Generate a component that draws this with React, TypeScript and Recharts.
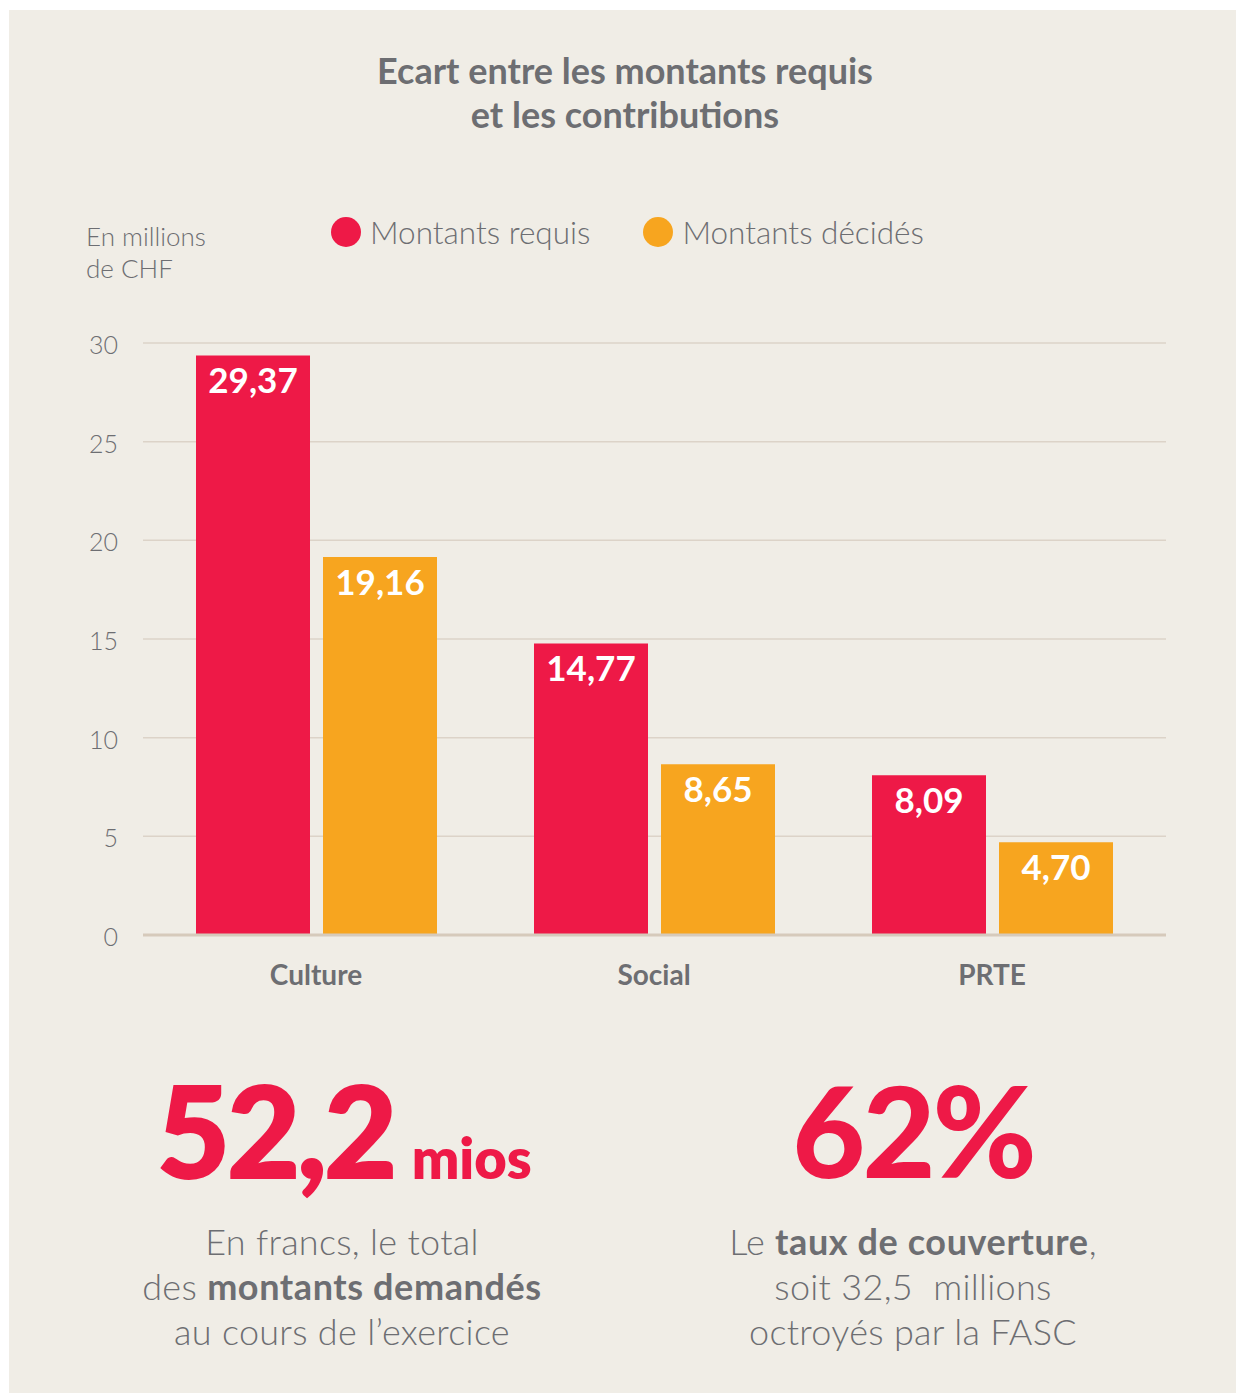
import React from "react";
import {
  BarChart,
  Bar,
  XAxis,
  YAxis,
  CartesianGrid,
  LabelList,
} from "recharts";

const categories = ["Culture", "Social", "PRTE"];
const montantsRequis = [29.37, 14.77, 8.09];
const montantsDecides = [19.16, 8.65, 4.7];
const yTicks = [0, 5, 10, 15, 20, 25, 30];

const series = [
  { key: "requis", name: "Montants requis", color: "#ee1947" },
  { key: "decides", name: "Montants décidés", color: "#f7a51f" },
];

const data = categories.map((name, i) => ({
  name,
  requis: montantsRequis[i],
  decides: montantsDecides[i],
}));

const GRAY = "#6d6e72";
const BG = "#f0ede6";
const FONT = "Lato, 'Open Sans', sans-serif";

const fmt = (v: number) => v.toFixed(2).replace(".", ",");

const bodyText: React.CSSProperties = {
  position: "absolute",
  top: 1219,
  width: 600,
  textAlign: "center",
  fontSize: 36,
  fontWeight: 300,
  lineHeight: "45px",
  letterSpacing: 0.3,
};

const boldPart: React.CSSProperties = { fontWeight: 700, letterSpacing: 0.6 };

export default function App() {
  return (
    <div
      style={{
        position: "absolute",
        left: 0,
        top: 0,
        width: 1236,
        height: 1393,
        background: "#fff",
        fontFamily: FONT,
        color: GRAY,
        overflow: "hidden",
      }}
    >
      <div
        style={{
          position: "absolute",
          left: 9,
          top: 10,
          width: 1227,
          height: 1383,
          background: BG,
        }}
      />

      <div
        style={{
          position: "absolute",
          left: 0,
          top: 48,
          width: 1250,
          textAlign: "center",
          fontWeight: 700,
          fontSize: 36,
          lineHeight: "44px",
        }}
      >
        Ecart entre les montants requis
        <br />
        et les contributions
      </div>

      <div
        style={{
          position: "absolute",
          left: 86,
          top: 220,
          fontSize: 26,
          fontWeight: 300,
          lineHeight: "32px",
        }}
      >
        En millions
        <br />
        de CHF
      </div>

      <div
        style={{
          position: "absolute",
          left: 331,
          top: 212,
          display: "flex",
          alignItems: "center",
        }}
      >
        {series.map((s, i) => (
          <div
            key={s.key}
            style={{
              display: "flex",
              alignItems: "center",
              marginRight: i === 0 ? 53 : 0,
            }}
          >
            <span
              style={{
                display: "inline-block",
                width: 30,
                height: 30,
                borderRadius: "50%",
                background: s.color,
                marginRight: 9,
              }}
            />
            <span style={{ fontSize: 31.5, fontWeight: 300, lineHeight: "40px" }}>
              {s.name}
            </span>
          </div>
        ))}
      </div>

      <div style={{ position: "absolute", left: 0, top: 0 }}>
        <BarChart
          width={1236}
          height={1010}
          data={data}
          margin={{ top: 343, right: 70, bottom: 45, left: 83 }}
          barSize={114}
          barGap={13}
        >
          <CartesianGrid vertical={false} stroke="#dcd3c8" strokeWidth={1.5} />
          <YAxis
            width={60}
            domain={[0, 30]}
            ticks={yTicks}
            axisLine={false}
            tickLine={false}
            tickMargin={19}
            tick={{ fill: GRAY, fontSize: 25, fontWeight: 300, fontFamily: FONT, dy: 2 }}
          />
          <XAxis
            dataKey="name"
            height={30}
            padding={{ left: 4, right: 5 }}
            axisLine={{ stroke: "#d6cabb", strokeWidth: 3 }}
            tickLine={false}
            tickMargin={24}
            tick={{ fill: GRAY, fontSize: 28, fontWeight: 700, fontFamily: FONT }}
          />
          {series.map((s) => (
            <Bar
              key={s.key}
              dataKey={s.key}
              name={s.name}
              fill={s.color}
              isAnimationActive={false}
            >
              <LabelList
                dataKey={s.key}
                position="insideTop"
                offset={13}
                formatter={(v: any) => fmt(Number(v))}
                fill="#fff"
                style={{ fontSize: 35, fontWeight: 700, fontFamily: FONT }}
              />
            </Bar>
          ))}
        </BarChart>
      </div>

      <div
        style={{
          position: "absolute",
          left: 44,
          top: 1055,
          width: 600,
          textAlign: "center",
          color: "#ee1947",
          fontWeight: 800,
          whiteSpace: "nowrap",
        }}
      >
        <span style={{ fontSize: 128, letterSpacing: -4, lineHeight: "150px" }}>52,2</span>
        <span style={{ fontSize: 56, marginLeft: 18 }}>mios</span>
      </div>

      <div
        style={{
          position: "absolute",
          left: 613,
          top: 1055,
          width: 600,
          textAlign: "center",
          color: "#ee1947",
          fontWeight: 900,
          whiteSpace: "nowrap",
        }}
      >
        <span style={{ fontSize: 126, letterSpacing: -3, lineHeight: "150px" }}>62%</span>
      </div>

      <div style={{ ...bodyText, left: 42 }}>
        En francs, le total
        <br />
        des <b style={boldPart}>montants demandés</b>
        <br />
        au cours de l’exercice
      </div>

      <div style={{ ...bodyText, left: 613 }}>
        Le <b style={boldPart}>taux de couverture</b>,
        <br />
        soit 32,5&nbsp; millions
        <br />
        octroyés par la FASC
      </div>
    </div>
  );
}
